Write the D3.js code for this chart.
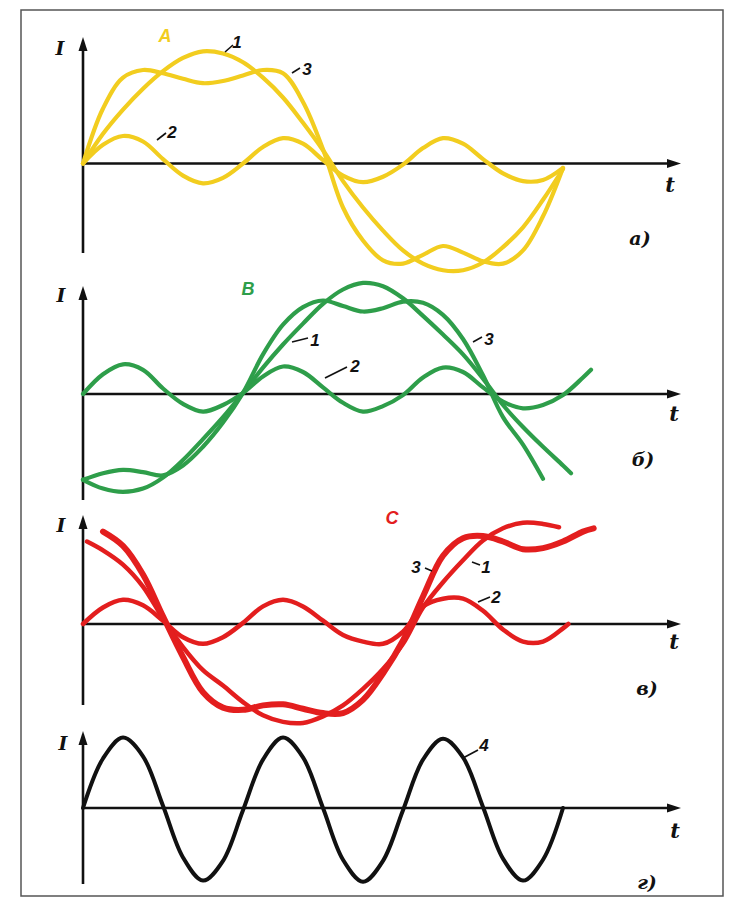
<!DOCTYPE html>
<html><head><meta charset="utf-8">
<script src="https://cdn.jsdelivr.net/npm/d3@7"></script>
<style>html,body{margin:0;padding:0;background:#fff}svg{display:block}</style>
</head><body>
<script>
// ---- data: t in degrees of the fundamental, I in relative units ----
const phaseA1 = [[0,0],[15,0.27],[30,0.49],[45,0.68],[60,0.84],[75,0.96],[90,1.02],[105,1.0],[120,0.92],[135,0.78],[150,0.60],[165,0.37],[180,0.12],[195,-0.16],[210,-0.40],[225,-0.61],[240,-0.79],[255,-0.91],[270,-0.97],[285,-0.97],[300,-0.90],[315,-0.76],[330,-0.58],[345,-0.33],[360,-0.05]];
const phaseA2 = [[0,0],[15,0.17],[30,0.25],[45,0.20],[60,0.04],[75,-0.11],[90,-0.18],[105,-0.13],[120,0.0],[135,0.15],[150,0.23],[165,0.18],[180,0.03],[195,-0.11],[210,-0.17],[225,-0.12],[240,-0.01],[255,0.14],[270,0.23],[285,0.18],[300,0.04],[315,-0.09],[330,-0.16],[345,-0.15],[360,-0.04]];
const phaseA3 = [[0,0],[15,0.50],[30,0.78],[45,0.85],[60,0.82],[75,0.77],[90,0.73],[105,0.75],[120,0.80],[135,0.85],[150,0.82],[165,0.56],[180,0.13],[195,-0.40],[210,-0.70],[225,-0.88],[240,-0.91],[255,-0.83],[270,-0.75],[285,-0.81],[300,-0.89],[315,-0.91],[330,-0.79],[345,-0.48],[360,-0.04]];

const phaseB1 = [[0,-0.78],[15,-0.86],[30,-0.89],[45,-0.86],[60,-0.76],[75,-0.60],[90,-0.41],[105,-0.21],[120,0.01],[135,0.24],[150,0.45],[165,0.64],[180,0.82],[195,0.95],[210,1.01],[225,0.98],[240,0.87],[255,0.71],[270,0.54],[285,0.36],[300,0.14],[315,-0.10],[330,-0.30],[345,-0.48],[360,-0.65],[366,-0.72]];
const phaseB2 = [[0,0],[15,0.18],[30,0.27],[45,0.22],[60,0.05],[75,-0.09],[90,-0.16],[105,-0.10],[120,0.01],[135,0.16],[150,0.25],[165,0.20],[180,0.06],[195,-0.08],[210,-0.16],[225,-0.11],[240,-0.01],[255,0.15],[270,0.24],[285,0.20],[300,0.06],[315,-0.07],[330,-0.13],[345,-0.10],[360,-0.01],[375,0.15],[381,0.22]];
const phaseB3 = [[0,-0.78],[15,-0.72],[30,-0.69],[45,-0.71],[60,-0.74],[75,-0.65],[90,-0.48],[105,-0.26],[120,0.01],[135,0.36],[150,0.63],[165,0.79],[180,0.85],[195,0.80],[210,0.75],[225,0.78],[240,0.84],[255,0.83],[270,0.72],[285,0.50],[300,0.17],[315,-0.21],[330,-0.46],[345,-0.77]];

const phaseC1 = [[3,0.75],[15,0.67],[30,0.54],[45,0.34],[60,0.05],[75,-0.21],[90,-0.42],[105,-0.56],[120,-0.71],[135,-0.83],[150,-0.89],[165,-0.90],[180,-0.84],[195,-0.74],[210,-0.59],[225,-0.41],[240,-0.18],[255,0.15],[270,0.38],[285,0.58],[300,0.76],[315,0.87],[330,0.92],[345,0.91],[357,0.88]];
const phaseC2 = [[0,0],[15,0.15],[30,0.22],[45,0.17],[60,0.03],[75,-0.12],[90,-0.18],[105,-0.12],[120,0.01],[135,0.16],[150,0.22],[165,0.16],[180,0.03],[195,-0.10],[210,-0.16],[225,-0.18],[240,-0.07],[255,0.16],[270,0.23],[285,0.23],[300,0.12],[315,-0.05],[330,-0.16],[345,-0.16],[360,-0.04],[364,0]];
const phaseC3 = [[15,0.84],[30,0.71],[45,0.45],[60,0.07],[75,-0.30],[90,-0.62],[105,-0.76],[120,-0.78],[135,-0.74],[150,-0.73],[165,-0.77],[180,-0.81],[195,-0.81],[210,-0.69],[225,-0.45],[240,-0.15],[255,0.25],[270,0.62],[285,0.78],[300,0.80],[315,0.75],[330,0.68],[345,0.69],[360,0.75],[375,0.84],[383,0.87]];

const neutral4 = [[0,0],[15,0.45],[30,0.64],[45,0.47],[60,0.02],[75,-0.45],[90,-0.66],[105,-0.48],[120,-0.02],[135,0.44],[150,0.64],[165,0.46],[180,0.0],[195,-0.47],[210,-0.67],[225,-0.48],[240,-0.02],[255,0.44],[270,0.63],[285,0.46],[300,0.01],[315,-0.46],[330,-0.66],[345,-0.47],[360,0]];

const phaseNames = ["A","B","C"];
const panelTags = ["а)","б)","в)","г)"];
const curveTags = ["1","2","3","4"];

// ---- drawing ----
const W = 737, H = 906;
const svg = d3.select("body").append("svg").attr("width", W).attr("height", H);

svg.append("rect").attr("x",21).attr("y",10).attr("width",702).attr("height",886)
  .attr("fill","none").attr("stroke","#555").attr("stroke-width",1.5);

const x = d3.scaleLinear().domain([0,360]).range([83,563]);
const unit = 110;
const xEnd = 681;

const YELLOW = "#f2cd1f", GREEN = "#2e9e4a", RED = "#e31e1e", BLACK = "#111";

const panels = [
  {axisY:163.5, top:37, bottom:253, color:YELLOW, series:[phaseA1,phaseA2,phaseA3], widths:[4.2,4.2,4.2],
   name:phaseNames[0], namePos:[165,42], tag:panelTags[0], tagPos:[640,245], tPos:[670,192], iPos:[60,55],
   labels:[{txt:curveTags[0],x:237,y:48,l:[225,52,233,45]},{txt:curveTags[2],x:307,y:75,l:[292,73,300,68]},{txt:curveTags[1],x:172,y:138,l:[157,140,166,133]}]},
  {axisY:394, top:286, bottom:500, color:GREEN, series:[phaseB1,phaseB2,phaseB3], widths:[4.2,4.2,4.2],
   name:phaseNames[1], namePos:[248,295], tag:panelTags[1], tagPos:[643,466], tPos:[674,421], iPos:[61,302],
   labels:[{txt:curveTags[0],x:315,y:346,l:[292,342,308,338]},{txt:curveTags[1],x:355,y:372,l:[325,378,347,367]},{txt:curveTags[2],x:489,y:345,l:[473,342,482,337]}]},
  {axisY:624, top:515, bottom:705, color:RED, series:[phaseC1,phaseC2,phaseC3], widths:[4.5,4.5,6],
   name:phaseNames[2], namePos:[392,524], tag:panelTags[2], tagPos:[647,695], tPos:[674,649], iPos:[61,532],
   labels:[{txt:curveTags[2],x:416,y:573,l:[425,568,432,571]},{txt:curveTags[0],x:486,y:573,l:[472,562,480,565]},{txt:curveTags[1],x:496,y:603,l:[478,602,490,597]}]},
  {axisY:808, top:731, bottom:884, color:BLACK, series:[neutral4], widths:[4],
   name:null, tag:panelTags[3], tagPos:[647,889], tPos:[675,838], iPos:[63,750],
   labels:[{txt:curveTags[3],x:484,y:751,l:[463,758,478,750]}]}
];

panels.forEach(p => {
  const y = d3.scaleLinear().domain([-1,1]).range([p.axisY+unit, p.axisY-unit]);
  const g = svg.append("g");
  // axes
  g.append("line").attr("x1",x(0)).attr("x2",x(0)).attr("y1",p.bottom).attr("y2",p.top+10)
    .attr("stroke","#111").attr("stroke-width",2.6);
  g.append("path").attr("d",`M${x(0)},${p.top} L${x(0)-4.5},${p.top+14} L${x(0)+4.5},${p.top+14} Z`).attr("fill","#111");
  g.append("line").attr("x1",x(0)).attr("x2",xEnd-10).attr("y1",y(0)).attr("y2",y(0))
    .attr("stroke","#111").attr("stroke-width",2.6);
  g.append("path").attr("d",`M${xEnd},${y(0)} L${xEnd-14},${y(0)-4.5} L${xEnd-14},${y(0)+4.5} Z`).attr("fill","#111");

  // curves
  const line = d3.line().x(d=>x(d[0])).y(d=>y(d[1])).curve(d3.curveCatmullRom.alpha(0.5));
  p.series.forEach((s,i) => {
    g.append("path").attr("d", line(s)).attr("fill","none").attr("stroke",p.color)
      .attr("stroke-width",p.widths[i]).attr("stroke-linecap","round").attr("stroke-linejoin","round");
  });

  // texts
  g.append("text").attr("x",p.iPos[0]).attr("y",p.iPos[1]).attr("text-anchor","middle")
    .attr("font-family","DejaVu Serif").attr("font-style","italic").attr("font-weight","bold")
    .attr("font-size",19).attr("fill","#111").text("I");
  g.append("text").attr("x",p.tPos[0]).attr("y",p.tPos[1]).attr("text-anchor","middle")
    .attr("font-family","DejaVu Serif").attr("font-style","italic").attr("font-weight","bold")
    .attr("font-size",21).attr("fill","#111").text("t");
  g.append("text").attr("x",p.tagPos[0]).attr("y",p.tagPos[1]).attr("text-anchor","middle")
    .attr("font-family","DejaVu Serif").attr("font-style","italic").attr("font-weight","bold")
    .attr("font-size",19).attr("fill","#111").text(p.tag);
  if (p.name) {
    g.append("text").attr("x",p.namePos[0]).attr("y",p.namePos[1]).attr("text-anchor","middle")
      .attr("font-family","Liberation Sans").attr("font-style","italic").attr("font-weight","bold")
      .attr("font-size",18).attr("fill",p.color).text(p.name);
  }
  p.labels.forEach(lb => {
    g.append("line").attr("x1",lb.l[0]).attr("y1",lb.l[1]).attr("x2",lb.l[2]).attr("y2",lb.l[3])
      .attr("stroke","#111").attr("stroke-width",1.6);
    g.append("text").attr("x",lb.x).attr("y",lb.y).attr("text-anchor","middle")
      .attr("font-family","Liberation Sans").attr("font-style","italic").attr("font-weight","bold")
      .attr("font-size",17).attr("fill","#111").text(lb.txt);
  });
});
</script>
</body></html>
